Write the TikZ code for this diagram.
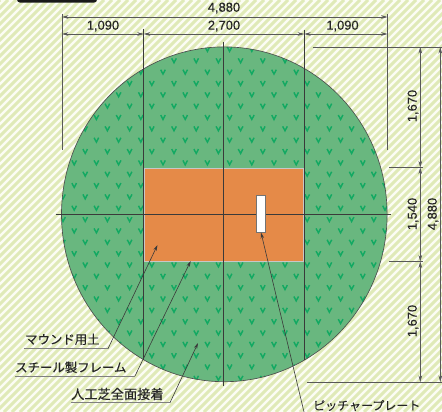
\documentclass[tikz,border=0pt]{standalone}
\usepackage{fontspec}
\setmainfont[FakeBold=0.2]{Liberation Sans}
\newfontfamily\jpfont[FakeBold=0.25]{Noto Sans CJK JP}
\usetikzlibrary{arrows.meta}
\definecolor{bgpale}{HTML}{FCFDF4}
\definecolor{stripe}{HTML}{E0EAB8}
\definecolor{turf}{HTML}{69B77F}
\definecolor{vmark}{HTML}{12A962}
\definecolor{mound}{HTML}{E58A48}
\definecolor{inkline}{HTML}{3A3A3A}
\tikzset{
  dimline/.style={draw=inkline!85,line width=.6pt,{Stealth[length=6.5pt,width=3.6pt]}-{Stealth[length=6.5pt,width=3.6pt]}},
  extline/.style={draw=inkline!85,line width=.6pt},
  gridln/.style={draw=inkline,line width=.55pt},
  leader/.style={draw=inkline,line width=.6pt,-{Stealth[length=6pt,width=3.4pt]}},
  underl/.style={draw=black!50,line width=.8pt},
  dimtext/.style={font=\fontsize{12.9}{14}\selectfont,text=black!85,inner sep=0pt},
  jptext/.style={font=\jpfont\fontsize{12.4}{14}\selectfont,text=black!85,inner sep=0pt,anchor=base west},
  vtick/.style={draw=vmark,line width=1.45pt}
}
\begin{document}
\begin{tikzpicture}[x=1pt,y=-1pt]
\useasboundingbox (0,0) rectangle (442,412);
% background
\fill[bgpale] (0,0) rectangle (442,412);
\begin{scope}
\clip (0,0) rectangle (442,412);
\foreach \s in {-8,0,...,864}{
  \draw[stripe,line width=2.9pt] (\s,0) -- ({\s-412},412);
}
% title tab
\fill[black!90,rounded corners=3pt] (17,-8) rectangle (97,2.6);
\end{scope}
% turf
\coordinate (ctr) at (224.3,214.3);
\fill[turf] (ctr) ellipse [x radius=162.8,y radius=167.4];
\begin{scope}
\clip (ctr) ellipse [x radius=162.8,y radius=167.4];
\foreach \i in {0,...,29}{
  \pgfmathsetmacro{\yy}{49.3+11.34*\i}
  \pgfmathsetmacro{\xo}{isodd(\i)?174:163}
  \foreach \k in {-6,...,10}{
    \pgfmathsetmacro{\xx}{\xo+22.2*\k}
    \draw[vtick] (\xx-2.3,\yy-2.3) -- (\xx,\yy+2.1) -- (\xx+2.3,\yy-2.3);
  }
}
\end{scope}
\draw[draw=inkline!90,line width=.65pt] (ctr) ellipse [x radius=162.8,y radius=167.4];
% frame lines
\coordinate (vlt) at (143.7,29);
\coordinate (vlb) at (143.7,359.5);
\coordinate (vrt) at (304.2,30);
\coordinate (vrb) at (304.2,359.5);
\draw[gridln] (vlt) -- (vlb);
\draw[gridln] (vrt) -- (vrb);
% mound
\draw[fill=mound,draw=black!22,line width=.9pt] (144,168) rectangle (303.8,261);
\coordinate (vct) at (223.5,42);
\coordinate (vcb) at (223.5,386);
\coordinate (hcl) at (56,214.2);
\coordinate (hcr) at (391,214.2);
\draw[gridln] (vct) -- (vcb);
\draw[gridln] (hcl) -- (hcr);
% plate
\draw[fill=white,draw=black!55,line width=.7pt] (256,195) rectangle (265.3,232.6);
% horizontal dimensions
\coordinate (el) at (62,14);
\coordinate (elb) at (62,150);
\coordinate (er) at (387.6,14);
\coordinate (erb) at (387.6,150);
\draw[extline] (el) -- (elb);
\draw[extline] (er) -- (erb);
\draw[dimline] (62,17) -- (387.6,17);
\draw[dimline] (62,34) -- (143.7,34);
\draw[dimline] (143.7,34) -- (304.2,34);
\draw[dimline] (304.2,34) -- (387.6,34);
\node[dimtext] (w1) at (224,8) {4,880};
\node[dimtext] (w2) at (103,26) {1,090};
\node[dimtext] (w3) at (224,26) {2,700};
\node[dimtext] (w4) at (342.5,26) {1,090};
% vertical dimensions
\coordinate (t1) at (313,47);
\coordinate (t2) at (442,47);
\coordinate (m1) at (389,167.5);
\coordinate (m2) at (423,167.5);
\coordinate (n1) at (389,261.5);
\coordinate (n2) at (423,261.5);
\coordinate (b1) at (307,382);
\coordinate (b2) at (442,382);
\draw[extline] (t1) -- (t2);
\draw[extline] (m1) -- (m2);
\draw[extline] (n1) -- (n2);
\draw[extline] (b1) -- (b2);
\draw[dimline] (420.3,47) -- (420.3,167.5);
\draw[dimline] (420.3,167.5) -- (420.3,261.5);
\draw[dimline] (420.3,261.5) -- (420.3,382);
\draw[dimline] (440.3,47) -- (440.3,382);
\node[dimtext,rotate=90] (h1) at (413,106) {1,670};
\node[dimtext,rotate=90] (h2) at (413,214) {1,540};
\node[dimtext,rotate=90] (h3) at (433,214) {4,880};
\node[dimtext,rotate=90] (h4) at (413,321) {1,670};
% labels
\node[jptext] (lm) at (25,344) {マウンド用土};
\node[jptext] (ls) at (15,372) {スチール製フレーム};
\node[jptext,font=\jpfont\fontsize{13.2}{14}\selectfont] (lj) at (71,399) {人工芝全面接着};
\node[jptext,font=\jpfont\fontsize{12}{14}\selectfont] (lp) at (313,410) {ピッチャープレート};
\coordinate (ma) at (24,348.7);
\coordinate (mb) at (108,348.7);
\coordinate (mt) at (157.5,245);
\coordinate (sa) at (15,376);
\coordinate (sb) at (135,376);
\coordinate (st) at (190.7,261);
\coordinate (ja) at (71,402.7);
\coordinate (jb) at (170,402.7);
\coordinate (jt) at (198,343);
\coordinate (pb) at (304,412);
\coordinate (pt) at (261,232.5);
\draw[underl] (ma) -- (mb);
\draw[underl] (sa) -- (sb);
\draw[underl] (ja) -- (jb);
\draw[leader] (mb) -- (mt);
\draw[leader] (sb) -- (st);
\draw[leader] (jb) -- (jt);
\draw[leader] (pb) -- (pt);
\end{tikzpicture}
\end{document}
